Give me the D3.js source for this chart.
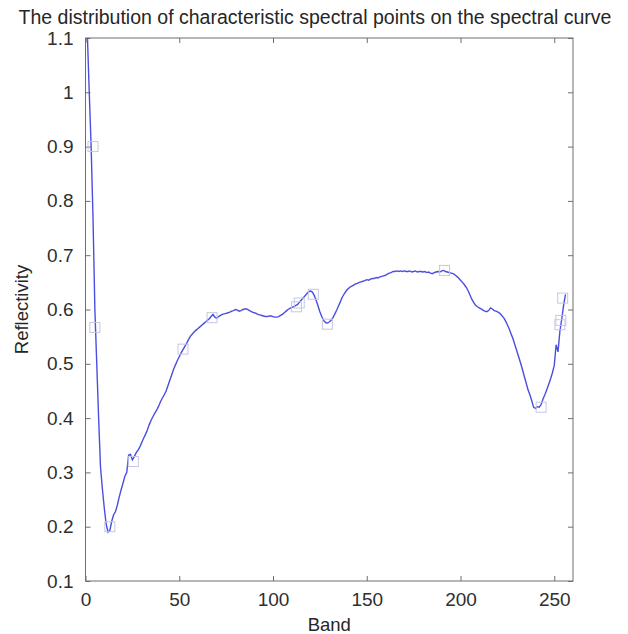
<!DOCTYPE html>
<html>
<head>
<meta charset="utf-8">
<script src="https://cdn.jsdelivr.net/npm/d3@7"></script>
<style>
  html, body { margin: 0; padding: 0; background: #fff; }
  svg { display: block; font-family: "Liberation Sans", Arial, sans-serif; }
</style>
</head>
<body>
<div id="chart"></div>
<script>
/* spectral curve */
const bands = d3.range(1, 257);
const reflectivity = [
  1.105, 1.0, 0.9, 0.77, 0.6, 0.5, 0.4, 0.31, 0.27, 0.235,
  0.205, 0.19, 0.193, 0.21, 0.222, 0.228, 0.24, 0.255, 0.268, 0.28,
  0.293, 0.3, 0.332, 0.333, 0.323, 0.329, 0.336, 0.341, 0.347, 0.355,
  0.363, 0.37, 0.378, 0.388, 0.396, 0.403, 0.409, 0.415, 0.422, 0.43,
  0.437, 0.443, 0.45, 0.46, 0.47, 0.48, 0.49, 0.498, 0.506, 0.513,
  0.52, 0.526, 0.532, 0.538, 0.545, 0.551, 0.555, 0.559, 0.562, 0.565,
  0.568, 0.571, 0.574, 0.577, 0.58, 0.583, 0.587, 0.591, 0.586, 0.584,
  0.587, 0.589, 0.591, 0.592, 0.593, 0.594, 0.595, 0.597, 0.598, 0.6,
  0.599, 0.597, 0.598, 0.6, 0.601, 0.601, 0.599, 0.597, 0.595, 0.594,
  0.593, 0.591, 0.59, 0.589, 0.588, 0.587, 0.587, 0.588, 0.588, 0.587,
  0.586, 0.586, 0.587, 0.589, 0.591, 0.594, 0.597, 0.6, 0.602, 0.604,
  0.605, 0.607, 0.609, 0.613, 0.617, 0.621, 0.625, 0.629, 0.633, 0.634,
  0.632, 0.626, 0.617, 0.607, 0.596, 0.587, 0.58, 0.576, 0.575, 0.577,
  0.58, 0.585, 0.592, 0.599, 0.607, 0.615, 0.623, 0.629, 0.634, 0.638,
  0.641, 0.643, 0.645, 0.647, 0.648, 0.65, 0.651, 0.652, 0.653, 0.655,
  0.654, 0.656, 0.657, 0.657, 0.659, 0.658, 0.66, 0.661, 0.662, 0.663,
  0.665, 0.667, 0.668, 0.67, 0.67, 0.671, 0.67, 0.671, 0.67, 0.671,
  0.67, 0.67, 0.671, 0.669, 0.67, 0.671, 0.669, 0.67, 0.67, 0.669,
  0.67, 0.668, 0.669, 0.667, 0.666, 0.668, 0.669, 0.67, 0.669, 0.671,
  0.672, 0.67, 0.669, 0.668, 0.667, 0.666, 0.664, 0.661, 0.658, 0.654,
  0.65, 0.646, 0.641, 0.635, 0.627, 0.619, 0.613, 0.608, 0.605, 0.603,
  0.601, 0.599, 0.597, 0.596, 0.598, 0.603, 0.601, 0.598, 0.597, 0.595,
  0.593, 0.589, 0.585, 0.579, 0.572, 0.564, 0.555, 0.546, 0.535, 0.524,
  0.513, 0.502, 0.49, 0.477, 0.465, 0.452, 0.443, 0.432, 0.42, 0.418,
  0.421, 0.42, 0.425, 0.435, 0.443, 0.452, 0.462, 0.472, 0.483, 0.497,
  0.535, 0.522, 0.56, 0.582, 0.608, 0.628
];

/* characteristic points (square markers) */
const pointBands = [4, 5, 13, 25.5, 52, 67.5, 112.5, 114, 121.5, 129, 191.5, 243, 253, 253.5, 254.5];
const pointValues = [0.9, 0.567, 0.2, 0.32, 0.527, 0.585, 0.605, 0.612, 0.628, 0.573, 0.672, 0.42, 0.572, 0.58, 0.621];

const xTicks = [0, 50, 100, 150, 200, 250];
const yTicks = [0.1, 0.2, 0.3, 0.4, 0.5, 0.6, 0.7, 0.8, 0.9, 1, 1.1];

const W = 628, H = 634;
const margin = { top: 38, right: 55, bottom: 53, left: 85.5 };
const w = W - margin.left - margin.right;
const h = H - margin.top - margin.bottom;

const svg = d3.select("#chart").append("svg")
  .attr("width", W).attr("height", H);

const g = svg.append("g").attr("transform", `translate(${margin.left},${margin.top})`);

const x = d3.scaleLinear().domain([0, 260]).range([0, w]);
const y = d3.scaleLinear().domain([0.1, 1.1]).range([h, 0]);

svg.append("defs").append("clipPath").attr("id", "plot-clip")
  .append("rect").attr("width", w).attr("height", h);

/* Title */
svg.append("text").attr("x", W / 2 + 1).attr("y", 24).attr("text-anchor", "middle")
  .style("font-size", "19.5px").style("fill", "#262626")
  .text("The distribution of characteristic spectral points on the spectral curve");

/* Axes (MATLAB-style box, ticks inward on all sides) */
const tickStyle = sel => {
  sel.select(".domain").remove();
  sel.selectAll(".tick line").attr("stroke", "#6e6e6e");
  sel.selectAll("text").style("font-size", "19px").style("fill", "#2e2e2e")
    .style("font-family", "'Liberation Sans', Arial, sans-serif");
};

g.append("g").attr("transform", `translate(0,${h})`)
  .call(d3.axisBottom(x).tickValues(xTicks).tickSize(-5).tickPadding(12))
  .call(tickStyle);
g.append("g")
  .call(d3.axisTop(x).tickValues(xTicks).tickSize(-5).tickFormat(""))
  .call(tickStyle);
g.append("g")
  .call(d3.axisLeft(y).tickValues(yTicks).tickSize(-5).tickPadding(12).tickFormat(d3.format("~g")))
  .call(tickStyle);
g.append("g").attr("transform", `translate(${w},0)`)
  .call(d3.axisRight(y).tickValues(yTicks).tickSize(-5).tickFormat(""))
  .call(tickStyle);

g.append("rect").attr("width", w).attr("height", h)
  .attr("fill", "none").attr("stroke", "#6e6e6e").attr("stroke-width", 1);

/* Axis labels */
svg.append("text").attr("x", margin.left + w / 2).attr("y", 631).attr("text-anchor", "middle")
  .style("font-size", "18.5px").style("fill", "#262626").text("Band");
svg.append("text").attr("transform", "rotate(-90)")
  .attr("x", -(margin.top + h / 2)).attr("y", 28).attr("text-anchor", "middle")
  .style("font-size", "18.5px").style("fill", "#262626").text("Reflectivity");

/* Spectral curve */
const curve = bands.map((b, i) => ({ b, v: reflectivity[i] }));
g.append("path").datum(curve)
  .attr("clip-path", "url(#plot-clip)")
  .attr("fill", "none").attr("stroke", "#4a4ee0").attr("stroke-width", 1.4)
  .attr("d", d3.line().x(d => x(d.b)).y(d => y(d.v)));

/* Characteristic points */
const pts = pointBands.map((b, i) => ({ b, v: pointValues[i] }));
const S = 10;
g.selectAll(".pt").data(pts).enter().append("rect").attr("class", "pt")
  .attr("x", d => x(d.b) - S / 2).attr("y", d => y(d.v) - S / 2)
  .attr("width", S).attr("height", S)
  .attr("fill", "none").attr("stroke", "#c6c6e4").attr("stroke-width", 1);
</script>
</body>
</html>
